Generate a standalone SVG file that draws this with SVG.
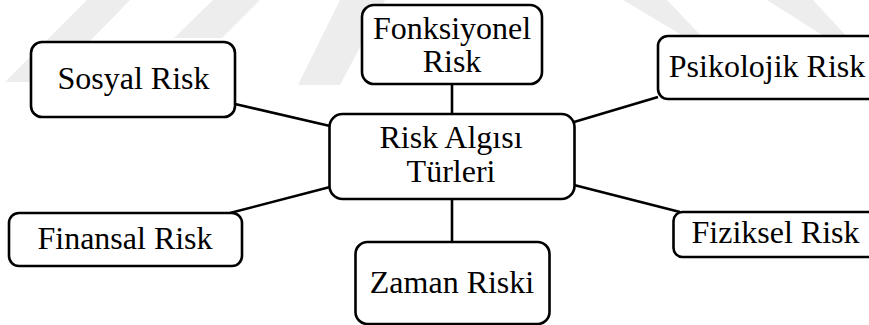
<svg xmlns="http://www.w3.org/2000/svg" width="869" height="325" viewBox="0 0 869 325">
<style>
.box{fill:#fff;stroke:#000;stroke-width:2.6}
.lbl{font-family:"Liberation Serif","Times New Roman",serif;font-size:32px;fill:#000;text-anchor:middle}
.wm{fill:#ededed}
#connectors line{stroke:#000;stroke-width:2.6}
</style>
<rect width="869" height="325" fill="#fff"/>
<g id="watermark">
<polygon class="wm" points="87,0 130,0 50,82 5,82"/>
<polygon class="wm" points="213,0 260,0 222,38 174,38"/>
<polygon class="wm" points="340,0 385,0 340,85 298,85"/>
<polygon class="wm" points="623,0 667,0 705,40 690,40"/>
<polygon class="wm" points="767,0 813,0 850,40 830,40"/>
</g>
<g id="connectors">
<line x1="235" y1="104" x2="330" y2="126"/>
<line x1="230" y1="213" x2="330" y2="187"/>
<line x1="452" y1="84" x2="452" y2="114"/>
<line x1="452" y1="199" x2="452" y2="242"/>
<line x1="658" y1="97" x2="574" y2="122"/>
<line x1="680" y1="212" x2="574" y2="185"/>
</g>
<g id="center">
<rect class="box" x="329.5" y="114" width="245" height="85" rx="13"/>
<text class="lbl" x="451" y="147.5">Risk Algısı</text>
<text class="lbl" x="451" y="181.5">Türleri</text>
</g>
<g id="fonksiyonel">
<rect class="box" x="362" y="5" width="180" height="79" rx="12"/>
<text class="lbl" x="452" y="38.5">Fonksiyonel</text>
<text class="lbl" x="452" y="71.5">Risk</text>
</g>
<g id="sosyal">
<rect class="box" x="31" y="42" width="204" height="75" rx="11"/>
<text class="lbl" x="133.5" y="89">Sosyal Risk</text>
</g>
<g id="psikolojik">
<rect class="box" x="658" y="36" width="220" height="63" rx="10"/>
<text class="lbl" x="767" y="76.5">Psikolojik Risk</text>
</g>
<g id="finansal">
<rect class="box" x="9" y="213" width="233" height="53" rx="10"/>
<text class="lbl" x="125" y="249">Finansal Risk</text>
</g>
<g id="fiziksel">
<rect class="box" x="673.5" y="212" width="210" height="45" rx="9"/>
<text class="lbl" x="775.5" y="243">Fiziksel Risk</text>
</g>
<g id="zaman">
<rect class="box" x="355.5" y="242" width="194" height="82" rx="12"/>
<text class="lbl" x="452" y="293">Zaman Riski</text>
</g>
</svg>
